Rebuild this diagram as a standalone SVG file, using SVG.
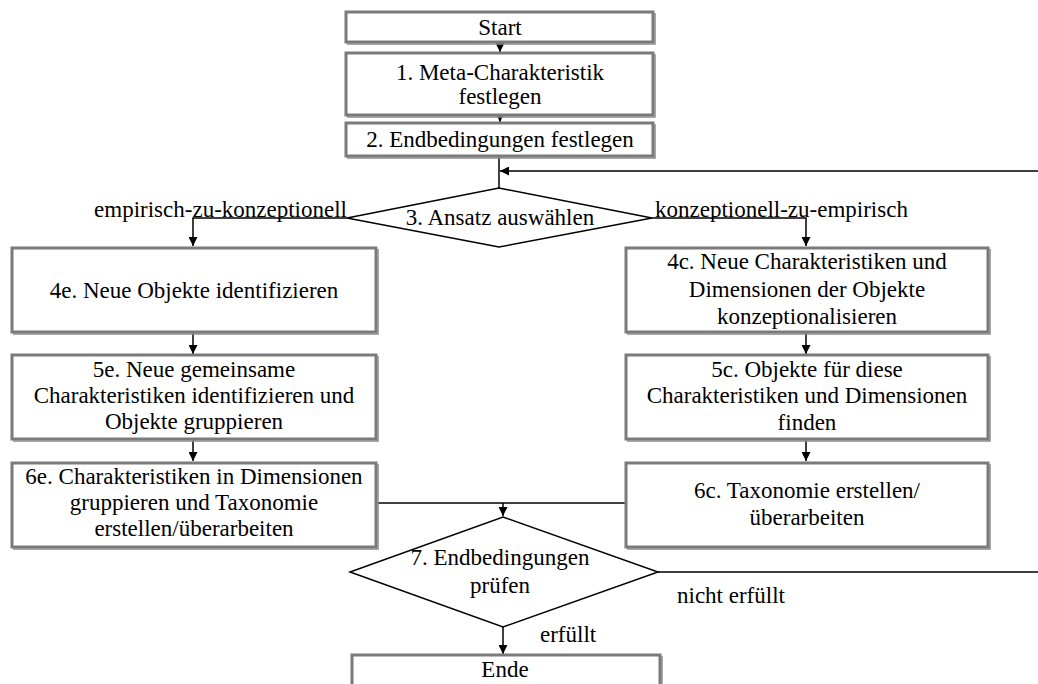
<svg xmlns="http://www.w3.org/2000/svg" width="1038" height="684" viewBox="0 0 1038 684" font-family="'Liberation Serif', 'Times New Roman', 'DejaVu Serif', serif">
  <style>
    .box { fill: #ffffff; stroke: #7a7a7a; stroke-width: 3; }
    .edge { fill: none; stroke: #8a8a8a; stroke-width: 1.5; }
    .dia { fill: #ffffff; stroke: #000000; stroke-width: 1.5; }
    .ln { fill: none; stroke: #000000; stroke-width: 1.5; }
    .arr { fill: none; stroke: #000000; stroke-width: 1.5; marker-end: url(#head); }
    .t { font-family: 'Liberation Serif', 'Times New Roman', 'DejaVu Serif', serif; font-size: 23px; fill: #000000; }
    .c { text-anchor: middle; }
  </style>
  <defs>
    <marker id="head" viewBox="0 0 10 10" refX="10" refY="5" markerWidth="9" markerHeight="9" markerUnits="userSpaceOnUse" orient="auto">
      <path d="M0,0 L10,5 L0,10 z" fill="#000000"/>
    </marker>
  </defs>

  <!-- connectors -->
  <g id="connectors">
    <path class="arr" d="M500,43 V52"/>
    <path class="arr" d="M500,116 V122"/>
    <path class="ln" d="M499,157 V188"/>
    <path class="arr" d="M658,572 H1046 V171 H500"/>
    <path class="arr" d="M347,218 H193 V246"/>
    <path class="arr" d="M652,218 H806 V246"/>
    <path class="arr" d="M193,333 V354"/>
    <path class="arr" d="M193,440 V461"/>
    <path class="arr" d="M806,333 V354"/>
    <path class="arr" d="M806,440 V461"/>
    <path class="ln" d="M376,503 H626"/>
    <path class="arr" d="M503,503 V516"/>
    <path class="arr" d="M503,627 V654"/>
    <text class="t" x="347" y="217" text-anchor="end">empirisch-zu-konzeptionell</text>
    <text class="t" x="655" y="217">konzeptionell-zu-empirisch</text>
    <text class="t" x="677" y="603">nicht erfüllt</text>
    <text class="t" x="540" y="642">erfüllt</text>
  </g>

  <g id="start">
    <rect class="box" x="346" y="12" width="307" height="30"/>
    <path class="edge" d="M655,13 V44 H347"/>
    <text class="t c" x="500" y="35">Start</text>
  </g>

  <g id="step1">
    <rect class="box" x="346" y="53" width="307" height="62"/>
    <path class="edge" d="M655,54 V117 H347"/>
    <text class="t c" x="500" y="80">1. Meta-Charakteristik</text>
    <text class="t c" x="500" y="104">festlegen</text>
  </g>

  <g id="step2">
    <rect class="box" x="346" y="123" width="307" height="33"/>
    <path class="edge" d="M655,124 V158 H347"/>
    <text class="t c" x="500" y="147">2. Endbedingungen festlegen</text>
  </g>

  <g id="step3">
    <polygon class="dia" points="499,188 652,218 499,247 347,218"/>
    <text class="t c" x="500" y="225">3. Ansatz auswählen</text>
  </g>

  <g id="step4e">
    <rect class="box" x="12" y="248" width="364" height="84"/>
    <path class="edge" d="M378,249 V334 H13"/>
    <text class="t c" x="194" y="298">4e. Neue Objekte identifizieren</text>
  </g>

  <g id="step5e">
    <rect class="box" x="12" y="355" width="364" height="84"/>
    <path class="edge" d="M378,356 V441 H13"/>
    <text class="t c" x="194" y="377">5e. Neue gemeinsame</text>
    <text class="t c" x="194" y="403">Charakteristiken identifizieren und</text>
    <text class="t c" x="194" y="429">Objekte gruppieren</text>
  </g>

  <g id="step6e">
    <rect class="box" x="12" y="463" width="364" height="84"/>
    <path class="edge" d="M378,464 V549 H13"/>
    <text class="t c" x="194" y="484">6e. Charakteristiken in Dimensionen</text>
    <text class="t c" x="194" y="510">gruppieren und Taxonomie</text>
    <text class="t c" x="194" y="536">erstellen/überarbeiten</text>
  </g>

  <g id="step4c">
    <rect class="box" x="626" y="248" width="362" height="84"/>
    <path class="edge" d="M990,249 V334 H627"/>
    <text class="t c" x="807" y="269">4c. Neue Charakteristiken und</text>
    <text class="t c" x="807" y="297">Dimensionen der Objekte</text>
    <text class="t c" x="807" y="324">konzeptionalisieren</text>
  </g>

  <g id="step5c">
    <rect class="box" x="626" y="355" width="362" height="84"/>
    <path class="edge" d="M990,356 V441 H627"/>
    <text class="t c" x="807" y="377">5c. Objekte für diese</text>
    <text class="t c" x="807" y="403">Charakteristiken und Dimensionen</text>
    <text class="t c" x="807" y="430">finden</text>
  </g>

  <g id="step6c">
    <rect class="box" x="626" y="463" width="362" height="84"/>
    <path class="edge" d="M990,464 V549 H627"/>
    <text class="t c" x="807" y="498">6c. Taxonomie erstellen/</text>
    <text class="t c" x="807" y="525">überarbeiten</text>
  </g>

  <g id="step7">
    <polygon class="dia" points="503,517 658,572 503,627 350,572"/>
    <text class="t c" x="500" y="565">7. Endbedingungen</text>
    <text class="t c" x="500" y="593">prüfen</text>
  </g>

  <g id="end">
    <rect class="box" x="352" y="655" width="308" height="40"/>
    <path class="edge" d="M662,656 V696"/>
    <text class="t c" x="505" y="677">Ende</text>
  </g>
</svg>
